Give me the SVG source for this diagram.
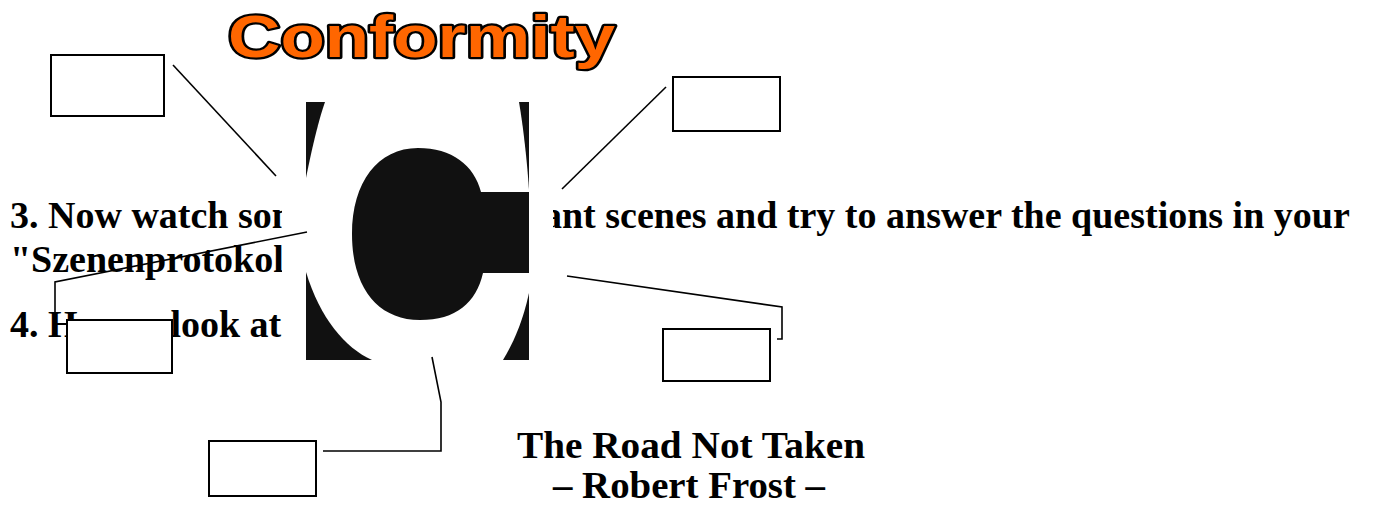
<svg xmlns="http://www.w3.org/2000/svg" width="1373" height="506" viewBox="0 0 1373 506">
<style>
.txt{font-family:"Liberation Serif","Times New Roman",serif;font-weight:bold;font-size:38px;fill:#000}
.box{fill:#fff;stroke:#000;stroke-width:2}
.con{fill:none;stroke:#000;stroke-width:1.6}
.title{font-family:"Liberation Sans",Arial,sans-serif;font-weight:bold;font-size:60px;fill:#FF6600;stroke:#000;stroke-width:4.5;paint-order:stroke;stroke-linejoin:round}
</style>
<rect width="1373" height="506" fill="#fff"/>
<g id="title"><text class="title" x="228" y="57" textLength="387" lengthAdjust="spacingAndGlyphs">Conformity</text></g>
<g id="instructions">
<text class="txt" x="10" y="228">3. Now watch some of the important scenes and try to answer the questions in your</text>
<text class="txt" x="10" y="272">"Szenenprotokoll".</text>
<text class="txt" x="10" y="337">4. Have a look at</text>
</g>
<g id="c-image">
<rect x="282" y="98" width="271" height="266" fill="#fff"/>
<rect x="306" y="102" width="223" height="258" fill="#111"/>
<path d="M325 102 L519 102 C523 125 527 160 529 190 L529 293 C522 325 512 345 503 360 L372 360 C345 348 320 318 306 272 L306 178 C310 158 317 125 325 102 Z" fill="#fff"/>
<path d="M418 148 C452 148 474 165 481 192 L529 192 L529 273 L483 273 C476 303 456 320 420 320 C378 320 352 288 352 234 C352 182 378 148 418 148 Z" fill="#111"/>
</g>
<g id="connectors">
<line class="con" x1="173" y1="65" x2="276" y2="176"/>
<line class="con" x1="666" y1="87" x2="562" y2="189"/>
<polyline class="con" points="307,232 55,282 55,320"/>
<polyline class="con" points="567,276 782,307 782,339 777,339"/>
<polyline class="con" points="432,357 441,402 441,451 323,451"/>
</g>
<g id="box1"><rect class="box" x="51" y="55" width="113" height="61"/></g>
<g id="box2"><rect class="box" x="673" y="77" width="107" height="54"/></g>
<g id="box3"><rect class="box" x="67" y="320" width="105" height="53"/></g>
<g id="box4"><rect class="box" x="663" y="329" width="107" height="52"/></g>
<g id="box5"><rect class="box" x="209" y="441" width="107" height="55"/></g>
<g id="caption">
<text class="txt" x="691" y="458" text-anchor="middle" textLength="348" lengthAdjust="spacingAndGlyphs">The Road Not Taken</text>
<text class="txt" x="689" y="498" text-anchor="middle" textLength="272" lengthAdjust="spacingAndGlyphs">– Robert Frost –</text>
</g>
</svg>
